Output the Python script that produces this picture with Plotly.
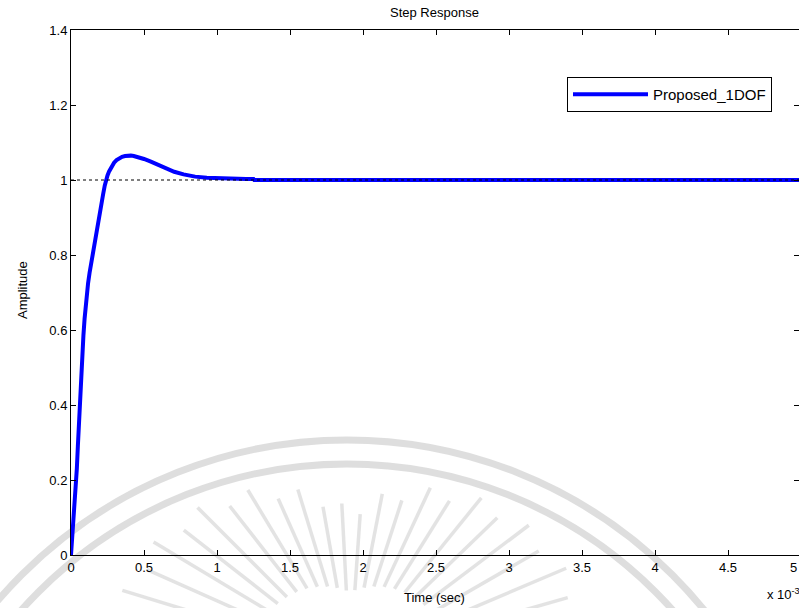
import math
import plotly.graph_objects as go

# Step response samples (time in units of 1e-3 s)
time_ms = [0, 0.005, 0.01, 0.015, 0.021, 0.027, 0.034, 0.04, 0.047, 0.055,
           0.062, 0.07, 0.077, 0.085, 0.093, 0.1, 0.108, 0.117, 0.127, 0.137,
           0.147, 0.158, 0.167, 0.175, 0.183, 0.192, 0.2, 0.211, 0.22, 0.231,
           0.24, 0.25, 0.261, 0.278, 0.295, 0.312, 0.33, 0.35, 0.37, 0.39,
           0.41, 0.43, 0.46, 0.5, 0.547, 0.6, 0.65, 0.707, 0.771, 0.85, 0.93,
           1.0, 1.1, 1.2, 1.25, 1.255, 2.0, 3.0, 4.0, 5.0]
amplitude = [0, 0.025, 0.05, 0.075, 0.105, 0.14, 0.185, 0.23, 0.29, 0.36,
             0.42, 0.48, 0.535, 0.585, 0.63, 0.665, 0.695, 0.725, 0.752, 0.776,
             0.798, 0.82, 0.84, 0.858, 0.876, 0.895, 0.915, 0.94, 0.962, 0.985,
             1.0, 1.012, 1.023, 1.036, 1.046, 1.053, 1.058, 1.062, 1.064, 1.065,
             1.065, 1.064, 1.061, 1.056, 1.049, 1.04, 1.031, 1.022, 1.015, 1.009, 1.006,
             1.0045, 1.003, 1.0025, 1.0025, 1.0, 1.0, 1.0, 1.0, 1.0]
series_name = "Proposed_1DOF"

# Steady-state reference
final_value = 1.0
x_span = [0, 5]

x_ticks = [0, 0.5, 1, 1.5, 2, 2.5, 3, 3.5, 4, 4.5]
y_ticks = [0, 0.2, 0.4, 0.6, 0.8, 1.0, 1.2, 1.4]

FONT = "Liberation Sans, Arial, Helvetica, sans-serif"
W, H = 799, 608
ML, MR, MT, MB = 71, 0, 30, 53
PW, PH = W - ML - MR, H - MT - MB


def px(x):
    return (x - ML) / PW


def py(y):
    return (H - MB - y) / PH


fig = go.Figure()

fig.add_trace(go.Scatter(
    x=time_ms, y=amplitude, mode="lines", name=series_name,
    line=dict(color="#0000ff", width=4)))

fig.add_trace(go.Scatter(
    x=x_span, y=[final_value, final_value], mode="lines",
    line=dict(color="black", width=1, dash="3px,3px"),
    showlegend=False, hoverinfo="skip"))

# faint seal in the background
seal = []
arc_gray = "rgba(200,200,200,0.6)"
ray_gray = "rgba(200,200,200,0.5)"
cx, cy = 347, 900
for r in (460, 436):
    seal.append(dict(type="circle", xref="paper", yref="paper", layer="below",
                     x0=px(cx - r), x1=px(cx + r), y0=py(cy + r), y1=py(cy - r),
                     line=dict(color=arc_gray, width=7)))
sx, sy = 350, 660
for i, deg in enumerate(range(16, 166, 7)):
    a = math.radians(deg)
    side = abs(math.cos(a))
    r_out = 140 + 90 * side + (12 if i % 2 else 0)
    r_in = 68 + 30 * side
    seal.append(dict(type="line", xref="paper", yref="paper", layer="below",
                     x0=px(sx + r_in * math.cos(a)), y0=py(sy - r_in * math.sin(a)),
                     x1=px(sx + r_out * math.cos(a)), y1=py(sy - r_out * math.sin(a)),
                     line=dict(color=ray_gray, width=3.5)))

axis_common = dict(showline=True, linecolor="black", linewidth=1, mirror="ticks",
                   ticks="inside", ticklen=5, tickcolor="black", tickwidth=1,
                   showgrid=False, zeroline=False,
                   tickfont=dict(family=FONT, size=13, color="black"))


def label(text, x, y, **kw):
    d = dict(text=text, xref="paper", yref="paper", x=px(x), y=py(y),
             xanchor="center", yanchor="middle", showarrow=False,
             font=dict(family=FONT, size=13, color="black"))
    d.update(kw)
    return d


fig.update_layout(
    width=W, height=H,
    margin=dict(l=ML, r=MR, t=MT, b=MB),
    paper_bgcolor="white", plot_bgcolor="rgba(0,0,0,0)",
    xaxis=dict(range=[0, PW / 146.0], tickvals=x_ticks, **axis_common),
    yaxis=dict(range=[0, 1.4], tickvals=y_ticks, **axis_common),
    shapes=seal,
    showlegend=True,
    legend=dict(x=px(567), y=py(77), xanchor="left", yanchor="top",
                bgcolor="white", bordercolor="black", borderwidth=1,
                itemwidth=75, font=dict(family=FONT, size=15, color="black")),
    annotations=[
        label("Step Response", 434, 13),
        label("Time (sec)", 434, 597),
        label("Amplitude", 22, 290, textangle=-90),
        label("5", 799, 567, xanchor="right"),
        label("x 10<sup>-3</sup>", 765, 594, xanchor="left"),
    ],
)

fig.write_html("out.html")
